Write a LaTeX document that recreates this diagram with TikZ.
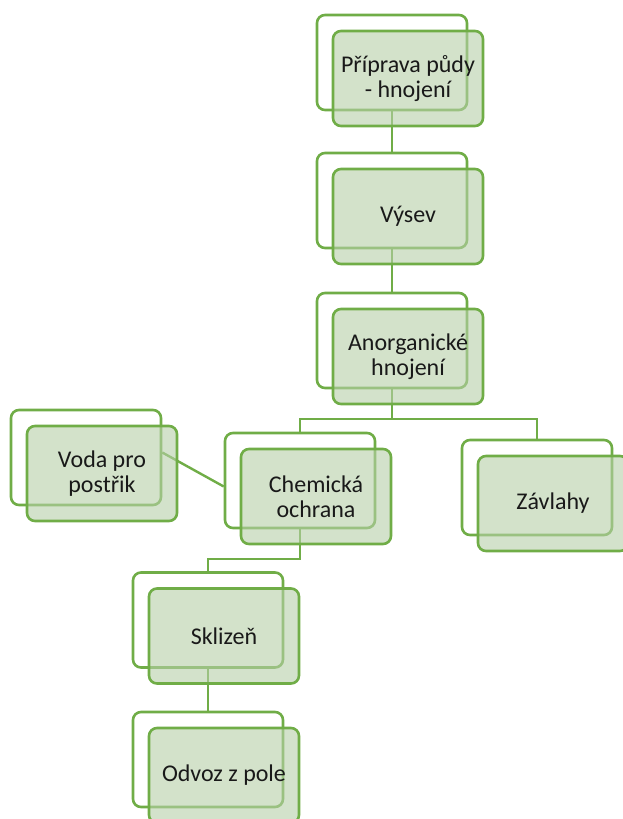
\documentclass[tikz,border=0pt]{standalone}
\usepackage{fontspec}
\setmainfont{Carlito}
\definecolor{sgreen}{RGB}{112,173,71}
\definecolor{sfill}{RGB}{182,207,168}
\definecolor{stext}{RGB}{25,25,25}
\begin{document}
\begin{tikzpicture}[x=1pt,y=-1pt,
  backbox/.style={draw=sgreen,line width=2.6pt,rounded corners=8pt,fill=white,
    minimum width=150pt,minimum height=95pt,inner sep=0pt},
  frontbox/.style={draw=sgreen,line width=2.6pt,rounded corners=8pt,fill=sfill,fill opacity=0.6,
    text opacity=1,text=stext,minimum width=150pt,minimum height=95pt,inner sep=0pt,
    align=center,font=\fontsize{24}{25}\selectfont},
  conn/.style={draw=sgreen,line width=2.4pt}]
\useasboundingbox (0,0) rectangle (622,819);
% back boxes
\node[backbox] (A) at (392,62.5) {};
\node[backbox] (B) at (392,200.5) {};
\node[backbox] (C) at (392,340.5) {};
\node[backbox] (D) at (300,480.5) {};
\node[backbox] (E) at (86,457.5) {};
\node[backbox] (F) at (537,487.5) {};
\node[backbox] (G) at (208,620) {};
\node[backbox] (H) at (208,759.5) {};
% connectors
\coordinate (c1) at (392,419);
\coordinate (c2) at (300,559);
\draw[conn] (A.south) -- (B.north);
\draw[conn] (B.south) -- (C.north);
\draw[conn] (C.south) -- (c1) -| (D.north);
\draw[conn] (c1) -| (F.north);
\draw[conn] (D.south) -- (c2) -| (G.north);
\draw[conn] (G.south) -- (H.north);
\draw[conn] ([yshift=5pt]E.east) -- ([yshift=-6pt]D.west);
% front boxes
\node[frontbox] (Af) at (408,78.5) {Příprava půdy\\- hnojení};
\node[frontbox] (Bf) at (408,216.5) {Výsev};
\node[frontbox] (Cf) at (408,356.5) {Anorganické\\hnojení};
\node[frontbox] (Df) at (316,496.5) {Chemická\\ochrana};
\node[frontbox] (Ef) at (102,473.5) {Voda pro\\postřik};
\node[frontbox] (Ff) at (553,503.5) {Závlahy};
\node[frontbox] (Gf) at (224,636) {Sklizeň};
\node[frontbox] (Hf) at (224,775.5) {Odvoz z pole};
\end{tikzpicture}
\end{document}
